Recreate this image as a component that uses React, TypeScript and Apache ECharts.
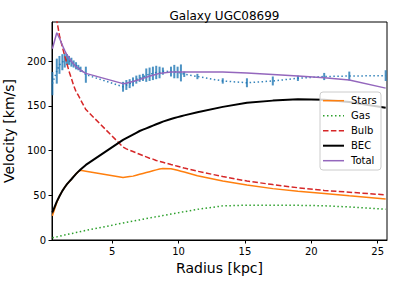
import React, { useEffect, useRef } from "react";
import * as echarts from "echarts";

const radius = [0.5, 0.83, 1.03, 1.25, 1.43, 1.6, 1.75, 1.93, 2.1, 2.28, 2.45, 2.62, 3.02, 5.82, 6.07, 6.32, 6.57, 6.82, 7.07, 7.32, 7.57, 7.82, 8.07, 8.32, 8.57, 8.82, 9.43, 9.68, 9.93, 10.18, 10.43, 11.42, 13.33, 15.15, 17.1, 18.99, 20.97, 22.86, 25.6];
const observed = [175, 189, 196, 199, 201, 202, 201, 199, 197, 195, 193, 191, 185, 171.5, 173.5, 175, 177, 179.5, 181, 182, 184.5, 185.5, 186.5, 187.5, 187.5, 189, 188.5, 188.5, 187.5, 187, 185.5, 183, 178, 176, 178, 181, 183, 183.5, 184];
const errors = [13, 14, 10, 9, 8, 6, 5, 5, 4, 4, 3, 3, 9, 5.5, 5.5, 5, 5, 4.5, 4, 4, 7.5, 7.5, 7.5, 7.5, 6.5, 4, 5.5, 7.5, 6.5, 9.5, 3, 3, 3, 5, 5, 3, 4, 5, 6];
const stars = [27, 42, 49, 55, 59, 62.5, 65, 68, 71, 74, 76.5, 78, 77, 70, 70.5, 71, 71.5, 72.5, 73.5, 74.5, 75.5, 76.5, 77.5, 78.5, 79.5, 80, 79.8, 79, 78, 77, 76, 72, 66, 61.5, 57.5, 54.5, 52, 49.5, 46];
const gas = [2.5, 3.5, 4.2, 5, 5.6, 6.1, 6.6, 7.2, 7.7, 8.3, 8.8, 9.4, 10.7, 19, 19.7, 20.4, 21.1, 21.8, 22.5, 23.2, 23.9, 24.6, 25.3, 26, 26.7, 27.4, 29, 29.6, 30.3, 31, 31.7, 34.3, 38.2, 39, 39, 38.8, 38.3, 37, 34.5];
const bulb = [275, 246, 229, 216, 206, 197, 189, 181, 173, 166, 162, 157, 146, 104, 102, 100.5, 99, 97.5, 96, 94.5, 93, 91.5, 90.5, 89, 88, 87, 84.5, 83.5, 82.5, 81.5, 80.5, 77, 71, 66, 62, 58.5, 55.5, 53.5, 50.5];
const bec = [31, 43, 49, 55, 59, 62.5, 65, 68, 71, 74, 76.5, 79, 84, 112, 114, 116, 118, 120, 122, 123.5, 125, 126.5, 128, 129.5, 131, 132.5, 135.5, 136.5, 137.5, 138.5, 139.5, 143, 149, 153.5, 156, 157.5, 157, 154.5, 148];
const total = [214, 232, 226, 218, 212, 207, 204, 200, 197, 194, 192, 190, 186.5, 175, 175.5, 176.5, 177.5, 178.5, 179.5, 181, 182, 183.5, 184.5, 185.5, 186.5, 187, 188, 188, 188, 188, 188, 188, 188, 187, 185.3, 183.5, 181.5, 179, 170];

const xTicks = [5, 10, 15, 20, 25];
const yTicks = [0, 50, 100, 150, 200];
const legendNames = ["Stars", "Gas", "Bulb", "BEC", "Total"];

const FONT = "DejaVu Sans";

export default function App() {
  const ref = useRef<HTMLDivElement>(null);
  useEffect(() => {
    if (!ref.current) return;
    const chart = echarts.init(ref.current, undefined, { renderer: "svg" });
    const pair = (vals: number[]) => radius.map((r, i) => [r, vals[i]]);

    const curveDefs = [
      { name: "Stars", data: stars, color: "#ff7f0e", width: 1.5, type: "solid" as any },
      { name: "Gas", data: gas, color: "#2ca02c", width: 1.5, type: [1.5, 2.5] as any },
      { name: "Bulb", data: bulb, color: "#d62728", width: 1.5, type: [5.5, 2.4] as any },
      { name: "BEC", data: bec, color: "#000000", width: 2, type: "solid" as any },
      { name: "Total", data: total, color: "#9467bd", width: 1.5, type: "solid" as any },
    ];

    const legendTop = 92;
    const legendLeft = 320;
    const rowH = 15;
    const legendGraphics: any[] = [
      {
        type: "rect",
        shape: { x: legendLeft, y: legendTop, width: 61, height: 78, r: 3 },
        style: { fill: "rgba(255,255,255,0.8)", stroke: "#cccccc", lineWidth: 1 },
        z: 100,
      },
    ];
    curveDefs.forEach((c, i) => {
      const cy = legendTop + 8.7 + i * rowH;
      legendGraphics.push({
        type: "line",
        shape: { x1: legendLeft + 3, y1: cy, x2: legendLeft + 24, y2: cy },
        style: {
          stroke: c.color,
          lineWidth: c.width,
          lineDash: Array.isArray(c.type) ? c.type : null,
        },
        z: 101,
      });
      legendGraphics.push({
        type: "text",
        x: legendLeft + 31,
        y: cy,
        style: {
          text: legendNames[i],
          fill: "#000",
          font: `10px '${FONT}'`,
          textVerticalAlign: "middle",
        },
        z: 101,
      });
    });

    chart.setOption({
      animation: false,
      title: {
        text: "Galaxy UGC08699",
        left: 219.5,
        top: 5,
        textAlign: "center",
        textStyle: { fontFamily: FONT, fontSize: 12, fontWeight: "normal", color: "#000" },
      },
      grid: {
        left: 52,
        right: 9,
        top: 22,
        bottom: 42,
        show: true,
        borderColor: "#000",
        borderWidth: 1,
        backgroundColor: "transparent",
        containLabel: false,
        outerBoundsMode: "none",
      },
      xAxis: {
        type: "value",
        min: 0.47,
        max: 25.7,
        name: "Radius [kpc]",
        nameLocation: "middle",
        nameGap: 21,
        nameTextStyle: { fontFamily: FONT, fontSize: 14, color: "#000" },
        splitLine: { show: false },
        axisLine: { show: true, lineStyle: { color: "#000", width: 1 } },
        axisTick: { show: true, length: 3.5, customValues: xTicks, lineStyle: { color: "#000" } },
        axisLabel: { customValues: xTicks, fontFamily: FONT, fontSize: 10, color: "#000", margin: 6 },
      },
      yAxis: {
        type: "value",
        min: 0,
        max: 244,
        name: "Velocity [km/s]",
        nameLocation: "middle",
        nameGap: 30,
        nameTextStyle: { fontFamily: FONT, fontSize: 14, color: "#000" },
        splitLine: { show: false },
        axisLine: { show: true, lineStyle: { color: "#000", width: 1 } },
        axisTick: { show: true, length: 3.5, customValues: yTicks, lineStyle: { color: "#000" } },
        axisLabel: { customValues: yTicks, fontFamily: FONT, fontSize: 10, color: "#000", margin: 6 },
      },
      graphic: legendGraphics,
      series: [
        {
          type: "line",
          name: "Observed",
          data: pair(observed),
          symbol: "none",
          lineStyle: { color: "#1f77b4", width: 1.5, type: [1.5, 2.5], opacity: 0.9 },
          z: 2,
        },
        {
          type: "custom",
          name: "Errors",
          data: radius.map((r, i) => [r, observed[i], errors[i]]),
          encode: { x: 0, y: 1 },
          renderItem: (params: any, api: any) => {
            const x = api.value(0);
            const y = api.value(1);
            const e = api.value(2);
            const p1 = api.coord([x, y - e]);
            const p2 = api.coord([x, y + e]);
            return {
              type: "line",
              shape: { x1: p1[0], y1: p1[1], x2: p2[0], y2: p2[1] },
              style: { stroke: "#1f77b4", lineWidth: 2, opacity: 0.8 },
            };
          },
          z: 3,
        },
        ...curveDefs.map((c, i) => ({
          type: "line",
          name: c.name,
          data: pair(c.data),
          symbol: "none",
          clip: true,
          lineStyle: { color: c.color, width: c.width, type: c.type },
          z: 4 + i,
        })),
      ],
    });
    return () => chart.dispose();
  }, []);
  return <div ref={ref} style={{ width: 396, height: 282, position: "absolute", left: 0, top: 0 }} />;
}
